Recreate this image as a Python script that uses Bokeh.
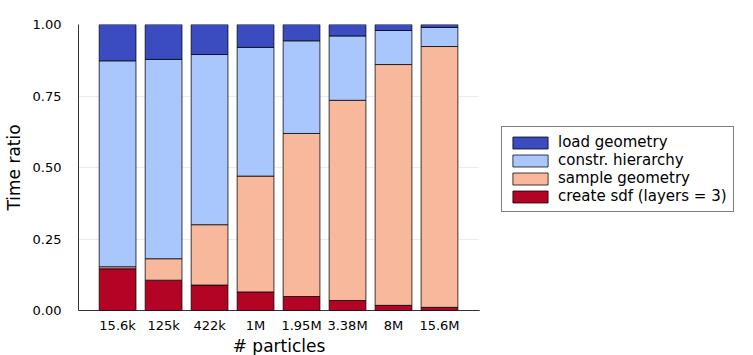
from bokeh.plotting import figure
from bokeh.models import ColumnDataSource, Legend, LegendItem, Range1d, FixedTicker
from bokeh.layouts import row
from bokeh.embed import file_html
from bokeh.resources import INLINE

categories = ["15.6k", "125k", "422k", "1M", "1.95M", "3.38M", "8M", "15.6M"]
create_sdf = [0.146, 0.106, 0.089, 0.065, 0.049, 0.035, 0.018, 0.011]
sample_geom = [0.007, 0.075, 0.211, 0.405, 0.570, 0.700, 0.842, 0.912]
constr_hier = [0.720, 0.697, 0.595, 0.450, 0.324, 0.225, 0.119, 0.067]
load_geom = [0.127, 0.122, 0.105, 0.080, 0.057, 0.040, 0.021, 0.010]

series_names = ["create sdf (layers = 3)", "sample geometry", "constr. hierarchy", "load geometry"]
series_vals = [create_sdf, sample_geom, constr_hier, load_geom]
colors = ["#b40426", "#f7b89c", "#aac7fd", "#3b4cc0"]

xs = list(range(1, len(categories) + 1))

p = figure(output_backend="svg", toolbar_location=None,
           x_range=Range1d(0.15, 8.87), y_range=Range1d(0, 1),
           frame_width=401, frame_height=286,
           min_border_left=69, min_border_top=24, min_border_bottom=0, min_border_right=0)
p.outline_line_color = None

renderers = []
bottom = [0.0] * len(xs)
for name, vals, col in zip(series_names, series_vals, colors):
    top = [b + v for b, v in zip(bottom, vals)]
    src = ColumnDataSource(dict(x=xs, bottom=bottom, top=top))
    r = p.vbar(x="x", bottom="bottom", top="top", width=0.8, source=src,
               fill_color=col, line_color="black", line_alpha=0.75, line_width=1)
    renderers.append((name, r))
    bottom = top

p.xaxis.ticker = FixedTicker(ticks=xs)
p.xaxis.major_label_overrides = {x: c for x, c in zip(xs, categories)}
p.yaxis.ticker = FixedTicker(ticks=[0, 0.25, 0.5, 0.75, 1.0])
p.yaxis.major_label_overrides = {0: "0.00", 0.25: "0.25", 0.5: "0.50", 0.75: "0.75", 1.0: "1.00"}

for ax in (p.xaxis, p.yaxis):
    ax.major_tick_line_color = None
    ax.minor_tick_line_color = None
    ax.axis_line_color = "black"
    ax.axis_line_alpha = 0.8
    ax.major_label_text_font = "DejaVu Sans"
    ax.major_label_text_font_size = "13px"
    ax.major_label_text_color = "black"
    ax.axis_label_text_font = "DejaVu Sans"
    ax.axis_label_text_font_size = "17px"
    ax.axis_label_text_font_style = "normal"
    ax.axis_label_text_color = "black"

p.xaxis.axis_label = "# particles"
p.yaxis.axis_label = "Time ratio"
p.xaxis.major_label_standoff = 1
p.yaxis.major_label_standoff = 11
p.xaxis.axis_label_standoff = 0
p.yaxis.axis_label_standoff = 6

p.xgrid.grid_line_color = None
p.ygrid.grid_line_color = "#000000"
p.ygrid.grid_line_alpha = 0.08

# legend panel as a separate, axis-less figure
lf = figure(output_backend="svg", toolbar_location=None,
            x_range=Range1d(0, 1), y_range=Range1d(0, 1),
            frame_width=265, frame_height=286,
            min_border_left=0, min_border_right=0, min_border_top=24, min_border_bottom=20)
lf.axis.visible = False
lf.grid.visible = False
lf.outline_line_color = None

items = []
for (name, r) in reversed(renderers):
    proxy = lf.vbar(x=[-10], top=[0], width=0.1, fill_color=r.glyph.fill_color,
                    line_color="black", line_alpha=0.75)
    items.append(LegendItem(label=name, renderers=[proxy]))
legend = Legend(items=items, location=(22, 98), margin=0,
                label_text_font="DejaVu Sans", label_text_font_size="15px",
                label_text_color="black",
                glyph_width=44, glyph_height=15, spacing=-1, padding=6,
                label_standoff=6, label_height=15,
                border_line_color="black", border_line_width=1,
                background_fill_color="white")
lf.add_layout(legend, "center")

layout = row(p, lf)
open("out.html", "w").write(file_html(layout, INLINE))
